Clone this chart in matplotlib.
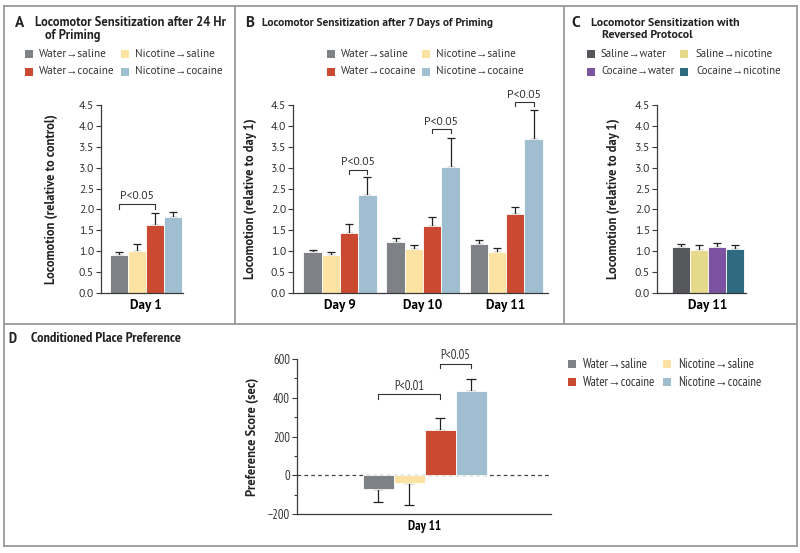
import matplotlib
matplotlib.use("Agg")
import matplotlib.pyplot as plt
from matplotlib.patches import Rectangle
from matplotlib.lines import Line2D
from matplotlib import font_manager

# ---------------- data ----------------
groups_main = ["Water\u2192saline", "Nicotine\u2192saline", "Water\u2192cocaine", "Nicotine\u2192cocaine"]
groups_rev = ["Saline\u2192water", "Saline\u2192nicotine", "Cocaine\u2192water", "Cocaine\u2192nicotine"]

a_days = ["Day 1"]
a_means = [0.90, 1.01, 1.62, 1.81]
a_errs = [0.07, 0.16, 0.29, 0.14]

b_days = ["Day 9", "Day 10", "Day 11"]
b_means = {
    "Water\u2192saline": [0.98, 1.21, 1.18],
    "Nicotine\u2192saline": [0.90, 1.05, 0.98],
    "Water\u2192cocaine": [1.43, 1.61, 1.89],
    "Nicotine\u2192cocaine": [2.34, 3.01, 3.69],
}
b_errs = {
    "Water\u2192saline": [0.05, 0.10, 0.08],
    "Nicotine\u2192saline": [0.09, 0.11, 0.10],
    "Water\u2192cocaine": [0.21, 0.21, 0.16],
    "Nicotine\u2192cocaine": [0.44, 0.69, 0.69],
}

c_days = ["Day 11"]
c_means = [1.11, 1.04, 1.11, 1.05]
c_errs = [0.06, 0.10, 0.08, 0.09]

d_days = ["Day 11"]
d_means = [-72, -41, 236, 436]
d_errs = [68, 114, 62, 62]

pvals_a = ["P<0.05"]
pvals_b = ["P<0.05", "P<0.05", "P<0.05"]
pvals_d = ["P<0.01", "P<0.05"]

colors_main = ["#7e8185", "#fde3a3", "#c94a30", "#9fbfd0"]
colors_rev = ["#56585c", "#e5d98c", "#7b53a1", "#2f6a81"]

# ---------------- fonts ----------------
avail = {f.name for f in font_manager.fontManager.ttflist}


def pick(cands):
    for c in cands:
        if c in avail:
            return c
    return "DejaVu Sans"


base = pick(["PT Sans", "Lato"])
narrow = pick(["PT Sans Narrow", "Roboto Condensed", "Archivo Narrow", "Liberation Sans Narrow", base])
FAM = [base, "Liberation Sans", "DejaVu Sans"]
FAMD = [narrow, "Liberation Sans", "DejaVu Sans"]
plt.rcParams["font.family"] = FAM

W, H = 800, 553
fig = plt.figure(figsize=(W / 100, H / 100), dpi=100)
fig.patch.set_facecolor("white")


def fx(x):
    return x / W


def fy(y):
    return 1 - y / H


def ax_px(x0, y0, x1, y1):
    return fig.add_axes([fx(x0), fy(y1), (x1 - x0) / W, (y1 - y0) / H])


# ---------------- panel borders ----------------
bc = "#9a9a9a"
blw = 1.3
for (x0, y0, x1, y1) in [(4, 6, 797, 6), (4, 546, 797, 546), (4, 6, 4, 546), (797, 6, 797, 546),
                         (4, 324, 797, 324), (235, 6, 235, 324), (564, 6, 564, 324)]:
    fig.add_artist(Line2D([fx(x0), fx(x1)], [fy(y0), fy(y1)], color=bc, lw=blw,
                          transform=fig.transFigure))

TICK_FS = 8.5
XT_FS = 9.5
YL_FS = 9.0


def style_axes(ax, fam=FAM, tick_fs=TICK_FS):
    for s in ["top", "right"]:
        ax.spines[s].set_visible(False)
    for s in ["left", "bottom"]:
        ax.spines[s].set_color("#3a3a3a")
        ax.spines[s].set_linewidth(0.9)
    ax.tick_params(axis="y", direction="out", length=3.5, width=0.8, color="#3a3a3a",
                   labelsize=tick_fs, pad=1.5, labelcolor="#333333")
    ax.tick_params(axis="x", length=0, labelsize=XT_FS, pad=4)
    for lab in ax.get_yticklabels():
        lab.set_family(fam)
    for lab in ax.get_xticklabels():
        lab.set_family(fam)
        lab.set_fontweight("bold")


def legend_px(x_sq1, x_tx1, x_sq2, x_tx2, y_rows, labels, colors, fs=8.0, fam=FAM, sq=8):
    pos = [(x_sq1, x_tx1, y_rows[0]), (x_sq2, x_tx2, y_rows[0]),
           (x_sq1, x_tx1, y_rows[1]), (x_sq2, x_tx2, y_rows[1])]
    for (xs, xt, yr), lab, col in zip(pos, labels, colors):
        fig.add_artist(Rectangle((fx(xs), fy(yr + sq / 2)), sq / W, sq / H, facecolor=col,
                                 edgecolor="none", transform=fig.transFigure))
        fig.text(fx(xt), fy(yr), lab, fontsize=fs, va="center", ha="left", family=fam,
                 color="#333333")


def bracket(ax, x0, x1, ytop, ydrop, text, ytext, fs=8.5, fam=FAM):
    ax.plot([x0, x0, x1, x1], [ydrop, ytop, ytop, ydrop], color="#333333", lw=0.8,
            clip_on=False)
    ax.text((x0 + x1) / 2, ytext, text, ha="center", va="center", fontsize=fs,
            family=fam, color="#333333", clip_on=False)


def bars_with_err(ax, xs, means, errs, colors, width=1.0, capsize=3.2):
    ax.bar(xs, means, width=width, color=colors, edgecolor="white", linewidth=0.6, zorder=2)
    lo = [e if m < 0 else 0 for m, e in zip(means, errs)]
    hi = [0 if m < 0 else e for m, e in zip(means, errs)]
    ax.errorbar(xs, means, yerr=[lo, hi], fmt="none", ecolor="#222222", elinewidth=0.9,
                capsize=capsize, capthick=0.9, zorder=1)


# ---------------- titles ----------------
def title(xl, xt, y, letter, lines, fs=8.8, lfs=11.0, fam=FAM, dy=12.5, indent=0):
    fig.text(fx(xl), fy(y), letter, fontsize=lfs, fontweight="bold", va="center",
             ha="left", family=fam, color="#222222")
    for i, ln in enumerate(lines):
        fig.text(fx(xt + (indent if i > 0 else 0)), fy(y + i * dy), ln, fontsize=fs,
                 fontweight="bold", va="center", ha="left", family=fam, color="#222222")


title(15, 35, 23, "A", ["Locomotor Sensitization after 24 Hr", "of Priming"], indent=10, fs=9.0)
title(245, 262, 23, "B", ["Locomotor Sensitization after 7 Days of Priming"], fs=8.2)
title(571, 591, 23, "C", ["Locomotor Sensitization with", "Reversed Protocol"], indent=11, fs=8.6)
title(8, 31, 339, "D", ["Conditioned Place Preference"], fam=FAMD, fs=10.4)

# ---------------- legends ----------------
legend_px(25, 39, 121, 135, [54, 71.5], groups_main, colors_main)
legend_px(327, 341, 422, 436, [54, 71.5], groups_main, colors_main)
legend_px(587, 601, 680, 696, [54, 71.5], groups_rev, colors_rev, fs=7.8)
legend_px(568, 583, 663, 678, [364, 382], groups_main, colors_main, fam=FAMD, fs=9.2)

YT = [0, 0.5, 1, 1.5, 2, 2.5, 3, 3.5, 4, 4.5]

# ---------------- panel A ----------------
axA = ax_px(101, 105, 183, 293)
xa = [0, 1, 2, 3]
bars_with_err(axA, xa, a_means, a_errs, colors_main)
axA.set_xlim(-1.0, 3.56)
axA.set_ylim(0, 4.5)
axA.set_yticks(YT)
axA.set_yticklabels([f"{v:.1f}" for v in YT])
axA.set_xticks([1.5])
axA.set_xticklabels(a_days)
style_axes(axA)
axA.set_ylabel("Locomotion (relative to control)", fontsize=YL_FS, fontweight="bold",
               color="#222222")
axA.yaxis.set_label_coords((58 - 101) / 82, 0.5)
bracket(axA, 0, 2, 2.13, 2.01, pvals_a[0], 2.32)

# ---------------- panel B ----------------
axB = ax_px(293, 105, 548, 293)
centers = [0, 4.54, 9.08]
offs = [-1.5, -0.5, 0.5, 1.5]
for gi, (g, col) in enumerate(zip(groups_main, colors_main)):
    xs = [c + offs[gi] for c in centers]
    bars_with_err(axB, xs, b_means[g], b_errs[g], [col] * 3)
axB.set_xlim(-2.57, 11.37)
axB.set_ylim(0, 4.5)
axB.set_yticks(YT)
axB.set_yticklabels([f"{v:.1f}" for v in YT])
axB.set_xticks(centers)
axB.set_xticklabels(b_days)
style_axes(axB)
axB.set_ylabel("Locomotion (relative to day 1)", fontsize=YL_FS, fontweight="bold",
               color="#222222")
axB.yaxis.set_label_coords((257 - 293) / 255, 0.5)
br_b = [(2.94, 2.85, 3.14), (3.93, 3.83, 4.09), (4.57, 4.48, 4.74)]
for c, (yt, yd, ytx), p in zip(centers, br_b, pvals_b):
    bracket(axB, c + 0.5, c + 1.5, yt, yd, p, ytx)

# ---------------- panel C ----------------
axC = ax_px(657, 105, 746, 293)
bars_with_err(axC, xa, c_means, c_errs, colors_rev)
axC.set_xlim(-1.33, 3.61)
axC.set_ylim(0, 4.5)
axC.set_yticks(YT)
axC.set_yticklabels([f"{v:.1f}" for v in YT])
axC.set_xticks([1.5])
axC.set_xticklabels(c_days)
style_axes(axC)
axC.set_ylabel("Locomotion (relative to day 1)", fontsize=YL_FS, fontweight="bold",
               color="#222222")
axC.yaxis.set_label_coords((620 - 657) / 89, 0.5)

# ---------------- panel D ----------------
axD = ax_px(297, 359, 551, 514)
bars_with_err(axD, xa, d_means, d_errs, colors_main, capsize=3.5)
axD.set_xlim(-2.55 + (297 - 299) / 31, 5.58)
axD.set_ylim(-200, 600)
axD.set_yticks([-200, 0, 200, 400, 600])
axD.set_yticks([-100, 100, 300, 500], minor=True)
axD.set_xticks([1.5])
axD.set_xticklabels(d_days)
axD.axhline(0, color="#444444", lw=0.9, ls=(0, (3, 2.5)), zorder=0)
style_axes(axD, fam=FAMD, tick_fs=9)
axD.tick_params(axis="y", which="minor", length=2.2, width=0.8, color="#3a3a3a")
axD.set_ylabel("Preference Score (sec)", fontsize=YL_FS, fontweight="bold", color="#222222",
               family=FAM)
axD.yaxis.set_label_coords((259 - 297) / 254, 0.5)
bracket(axD, 0, 2, 420, 395, pvals_d[0], 458, fs=9, fam=FAMD)
bracket(axD, 2, 3, 575, 553, pvals_d[1], 620, fs=9, fam=FAMD)

fig.savefig("out.png", dpi=100, facecolor="white")
